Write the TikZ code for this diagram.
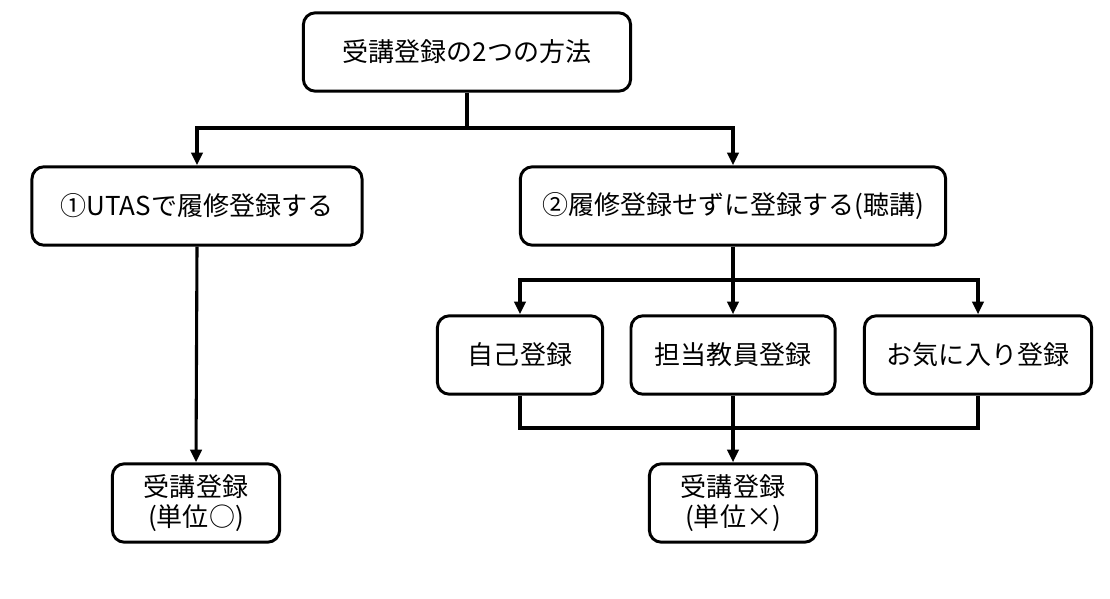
\documentclass[tikz,border=0pt]{standalone}
\usepackage{fontspec}
\setmainfont{Noto Sans CJK JP}
\usetikzlibrary{arrows.meta}

\begin{document}
\begin{tikzpicture}[x=0.025cm,y=-0.025cm]
\tikzstyle{every node}+=[inner sep=0pt]
\tikzstyle{stepbox}=[draw=black, line width=2.1pt, rounded corners=0.3cm, align=center, font=\fontsize{18.5}{21.5}\selectfont, minimum height=1.96cm]
\tikzstyle{conn}=[draw=black, line width=2.2pt]
\tikzstyle{connarr}=[conn, -{Triangle[length=9pt,width=8pt]}]
\useasboundingbox (0,0) rectangle (1110,598);
% boxes
\node [stepbox, minimum width=8.18cm] (top) at (467,52) {受講登録の2つの方法};
\node [stepbox, minimum width=8.25cm] (opt1) at (197,206) {①UTASで履修登録する};
\node [stepbox, minimum width=10.63cm] (opt2) at (733,206) {②履修登録せずに登録する(聴講)};
\node [stepbox, minimum width=4.13cm] (self) at (520,355) {自己登録};
\node [stepbox, minimum width=5.1cm] (teacher) at (733,355) {担当教員登録};
\node [stepbox, minimum width=5.68cm] (fav) at (978,355) {お気に入り登録};
\node [stepbox, minimum width=4.18cm] (res1) at (196,503) {受講登録\\(単位○)};
\node [stepbox, minimum width=4.18cm] (res2) at (733,503) {受講登録\\(単位×)};
% connectors
\coordinate (split1) at (467,128);
\draw [conn] (top.south) -- (split1);
\draw [connarr] (split1) -| (opt1.north);
\draw [connarr] (split1) -| (opt2.north);
\draw [connarr] (opt1.south) -- (res1.north);
\coordinate (split2) at (733,280);
\draw [conn] (opt2.south) -- (split2);
\draw [connarr] (split2) -| (self.north);
\draw [connarr] (split2) -| (fav.north);
\draw [connarr] (split2) -- (teacher.north);
\coordinate (merge) at (733,428);
\draw [conn] (self.south) |- (merge) -| (fav.south);
\draw [connarr] (teacher.south) -- (res2.north);
\end{tikzpicture}
\end{document}
